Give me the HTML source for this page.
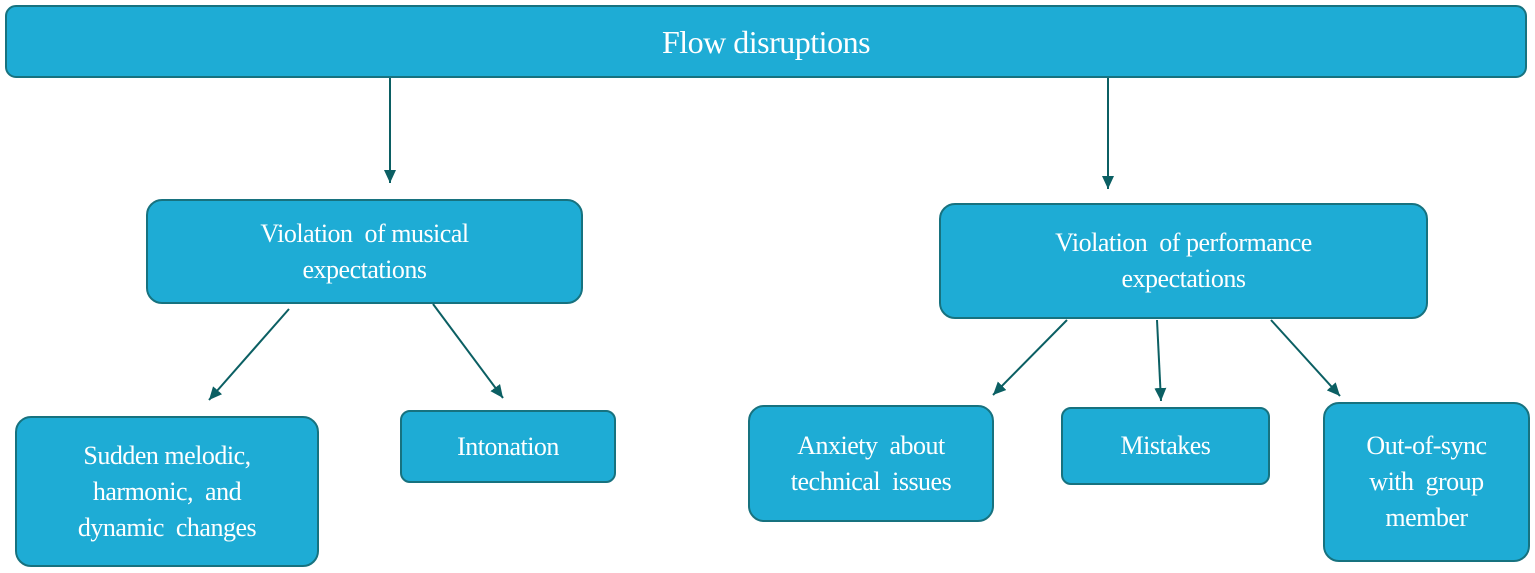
<!DOCTYPE html>
<html><head><style>
body{margin:0;width:1535px;height:573px;background:#fff;position:relative;overflow:hidden;font-family:"Liberation Serif",serif;}
.b{position:absolute;box-sizing:border-box;background:#1eacd5;border:2px solid #17727f;border-radius:16px;color:#fff;display:flex;align-items:center;justify-content:center;text-align:center;font-size:26px;line-height:36px;letter-spacing:-0.5px;}
svg{position:absolute;left:0;top:0}
</style></head><body>
<div class="b" style="left:5px;top:5px;width:1522px;height:73px;border-radius:11px;font-size:32px;">Flow disruptions</div>
<div class="b" style="left:146px;top:199px;width:437px;height:105px;">Violation&nbsp; of musical<br>expectations</div>
<div class="b" style="left:939px;top:203px;width:489px;height:116px;">Violation&nbsp; of performance<br>expectations</div>
<div class="b" style="left:15px;top:416px;width:304px;height:151px;">Sudden melodic,<br>harmonic,&nbsp; and<br>dynamic&nbsp; changes</div>
<div class="b" style="left:400px;top:410px;width:216px;height:73px;border-radius:10px;">Intonation</div>
<div class="b" style="left:748px;top:405px;width:246px;height:117px;">Anxiety&nbsp; about<br>technical&nbsp; issues</div>
<div class="b" style="left:1061px;top:407px;width:209px;height:78px;border-radius:10px;">Mistakes</div>
<div class="b" style="left:1323px;top:402px;width:207px;height:160px;">Out-of-sync<br>with&nbsp; group<br>member</div>
<svg width="1535" height="573">
<defs><marker id="a" markerWidth="14" markerHeight="14" refX="13" refY="6" orient="auto" markerUnits="userSpaceOnUse"><path d="M0,0 L13,6 L0,12z" fill="#0b5f63"/></marker></defs>
<g stroke="#0b5f63" stroke-width="2" marker-end="url(#a)">
<line x1="390" y1="78" x2="390" y2="183"/>
<line x1="1108" y1="78" x2="1108" y2="189"/>
<line x1="289" y1="309" x2="209" y2="400"/>
<line x1="433" y1="304" x2="503" y2="398"/>
<line x1="1067" y1="320" x2="993" y2="395"/>
<line x1="1157" y1="320" x2="1161" y2="401"/>
<line x1="1271" y1="320" x2="1340" y2="396"/>
</g></svg>
</body></html>
